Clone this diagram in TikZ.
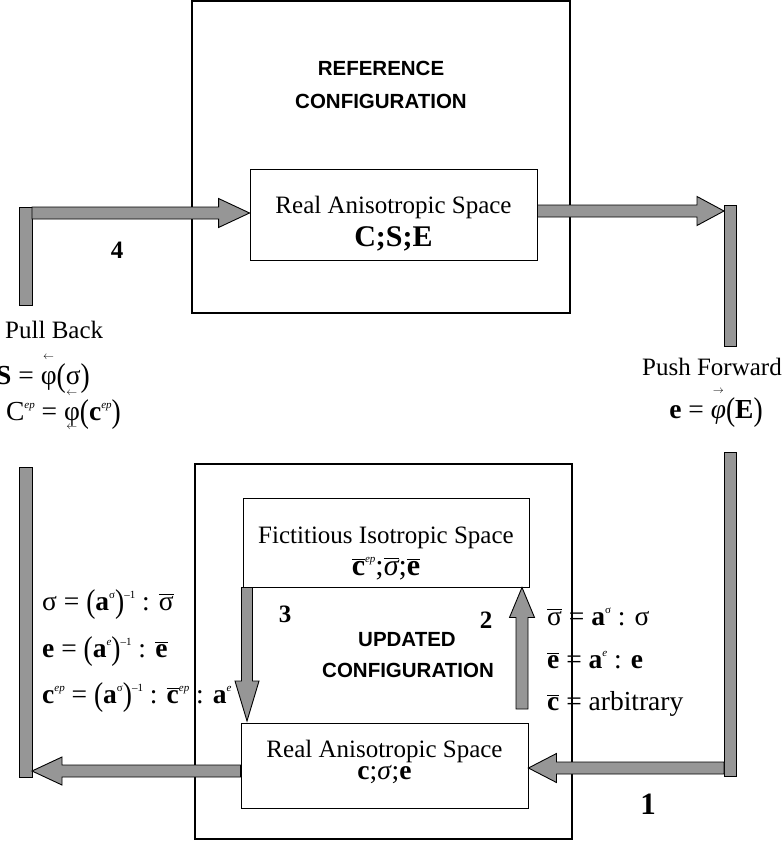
\documentclass[tikz,border=0pt]{standalone}
\usepackage{fontspec}
\setmainfont{Liberation Serif}
\setsansfont{Liberation Sans}
\usetikzlibrary{calc}
\definecolor{arrowgray}{RGB}{150,150,150}

% font size in points (1pt = 1 unit of the drawing)
\newcommand\fs[1]{\fontsize{#1}{#1}\selectfont}
% overlined symbol
\newcommand\ov[1]{\ensuremath{\overline{\hbox{#1}}}}
% small raised index
\newcommand\sps[1]{\raisebox{0.42em}{\fs{11}#1}}
% tall parentheses
\newcommand\lp{\raisebox{-0.08em}{\scalebox{1}[1.2]{(}}}
\newcommand\rp{\raisebox{-0.08em}{\scalebox{1}[1.2]{)}}}
% symbol with a small arrow set above it
\newcommand\arrover[2]{\setbox0=\hbox{#2}\rlap{\hbox to\wd0{\hss\raisebox{0.88em}{\fs{11}#1}\hss}}\box0}
% symbol with a small left arrow set below it
\newcommand\withunder[1]{\setbox0=\hbox{#1}\rlap{\hbox to\wd0{\hss\raisebox{-0.34em}{\fs{11}$\leftarrow$}\hss}}\box0}

% block arrow: #1 start, #2 tip, #3 half shaft, #4 half head, #5 head length
\newcommand\blockarrow[5]{%
  \coordinate (hb) at ($(#2)!#5!(#1)$);
  \draw[arrowbody] ($(#1)!#3!90:(#2)$) -- ($(hb)!#3!-90:(#1)$) -- ($(hb)!#4!-90:(#1)$) -- (#2)
    -- ($(hb)!#4!90:(#1)$) -- ($(hb)!#3!90:(#1)$) -- ($(#1)!#3!-90:(#2)$) -- cycle;}

\begin{document}
\begin{tikzpicture}[x=1pt,y=-1pt,
  lbl/.style={inner sep=0pt, font=\fs{25}},
  frm/.style={inner sep=0pt, font=\fs{27.5}},
  boxmath/.style={inner sep=0pt, font=\fs{30}},
  head/.style={inner sep=0pt, font=\sffamily\bfseries\fs{20.5}},
  num/.style={inner sep=0pt, font=\bfseries\fs{25}},
  outerbox/.style={draw, line width=1.6pt, inner sep=0pt},
  innerbox/.style={draw, line width=0.9pt, fill=white, inner sep=0pt},
  arrowbody/.style={draw=black, line width=0.9pt, fill=arrowgray, line join=miter},
  bar/.style={draw=black, line width=0.9pt, fill=arrowgray}]
\useasboundingbox (0,0) rectangle (783,843);

% transformation formulas beside the updated configuration
\node[frm, anchor=base west] (inv1) at (42,610) {σ = \lp\textbf{a}\sps{σ}\rp\sps{–1} : \ov{σ}};
\node[frm, anchor=base west] (inv2) at (42,657) {\textbf{e} = \lp\textbf{a}\sps{\itshape e}\rp\sps{–1} : \ov{\bfseries e}};
\node[frm, anchor=base west] (inv3) at (42,703) {\textbf{c}\sps{\itshape ep} = \lp\textbf{a}\sps{σ}\rp\sps{–1} : \ov{\bfseries c}\sps{\itshape ep} : \textbf{a}\sps{\itshape e}};
\node[frm, anchor=base west] (fw1) at (547,625) {\ov{σ} = \textbf{a}\sps{σ} : σ};
\node[frm, anchor=base west] (fw2) at (547,668) {\ov{\bfseries e} = \textbf{a}\sps{\itshape e} : \textbf{e}};
\node[frm, anchor=base west] (fw3) at (547,710) {\ov{\bfseries c} = arbitrary};

% pull back / push forward labels
\node[lbl, anchor=base west] (pb) at (5,338) {Pull Back};
\node[frm, anchor=base east] (pbS) at (90,384) {\textbf{S} = \arrover{$\leftarrow$}{φ}\lp σ\rp};
\node[frm, anchor=base east] (pbC) at (121,420) {C\sps{\itshape ep} = \withunder{\arrover{$\leftarrow$}{φ}}\lp\textbf{c}\sps{\itshape ep}\rp};
\node[lbl, anchor=base east] (pf) at (782,375) {Push Forward};
\node[frm, anchor=base] (pfe) at (716,418) {\textbf{e} = \arrover{$\rightarrow$}{\itshape φ}\lp\textbf{E}\rp};

% configurations
\node[outerbox, minimum width=378pt, minimum height=312pt] (refcfg) at (381,157) {};
\node[outerbox, minimum width=377pt, minimum height=375pt] (updcfg) at (383.5,651.5) {};
\node[head, anchor=base] (ref1) at (381,75) {REFERENCE};
\node[head, anchor=base] (ref2) at (381,108) {CONFIGURATION};
\node[head, anchor=base] (upd1) at (407,646) {UPDATED};
\node[head, anchor=base] (upd2) at (408,677) {CONFIGURATION};

% spaces
\node[innerbox, minimum width=287pt, minimum height=91pt] (topreal) at (393.5,214.5) {};
\node[innerbox, minimum width=286pt, minimum height=89pt] (fict) at (386,542.5) {};
\node[innerbox, minimum width=287pt, minimum height=85pt] (botreal) at (384.5,765.5) {};
\node[lbl, anchor=base] (topreal1) at (393.5,213) {Real Anisotropic Space};
\node[boxmath, anchor=base] (topreal2) at (393.5,246) {\textbf{C;S;E}};
\node[lbl, anchor=base] (fict1) at (386,543) {Fictitious Isotropic Space};
\node[boxmath, anchor=base] (fict2) at (386,575) {\ov{\bfseries c}\sps{\itshape ep};\ov{\itshape σ};\ov{\bfseries e}};
\node[lbl, anchor=base] (bot1) at (384.5,757) {Real Anisotropic Space};
\node[boxmath, font=\fs{27.5}, anchor=base] (bot2) at (384.5,779) {\textbf{c};\textit{σ};\textbf{e}};

% step numbers
\node[num, anchor=base] (n4) at (117,258) {4};
\node[num, anchor=base] (n3) at (285,622) {3};
\node[num, anchor=base] (n2) at (486,628) {2};
\node[num, font=\bfseries\fs{31}, anchor=base] (n1) at (648,814) {1};

% side bars
\draw[bar] (19,207) rectangle (32,305);
\draw[bar] (19,467) rectangle (32,777);
\draw[bar] (724,205) rectangle (736,346);
\draw[bar] (724,452) rectangle (736,776);

% arrow ends
\coordinate (a4s) at (32,213);
\coordinate (a4t) at (topreal.west |- a4s);
\coordinate (pfs) at (topreal.east |- 0,211);
\coordinate (pft) at (724,211);
\coordinate (a1s) at (724,768);
\coordinate (a1t) at (botreal.east |- a1s);
\coordinate (pbs) at (botreal.west |- 0,771);
\coordinate (pbt) at (32,771);
\coordinate (a3s) at (fict.south -| 247,0);
\coordinate (a3t) at (247,721);
\coordinate (a2s) at (522,709);
\coordinate (a2t) at (fict.south -| a2s);

\blockarrow{a4s}{a4t}{6pt}{14.5pt}{31pt}
\blockarrow{pfs}{pft}{6pt}{14.5pt}{27pt}
\blockarrow{a1s}{a1t}{6pt}{14.5pt}{28pt}
\blockarrow{pbs}{pbt}{6pt}{14pt}{30pt}
\blockarrow{a3s}{a3t}{5.5pt}{12pt}{40pt}
\blockarrow{a2s}{a2t}{6pt}{12.5pt}{30pt}
\end{tikzpicture}
\end{document}
